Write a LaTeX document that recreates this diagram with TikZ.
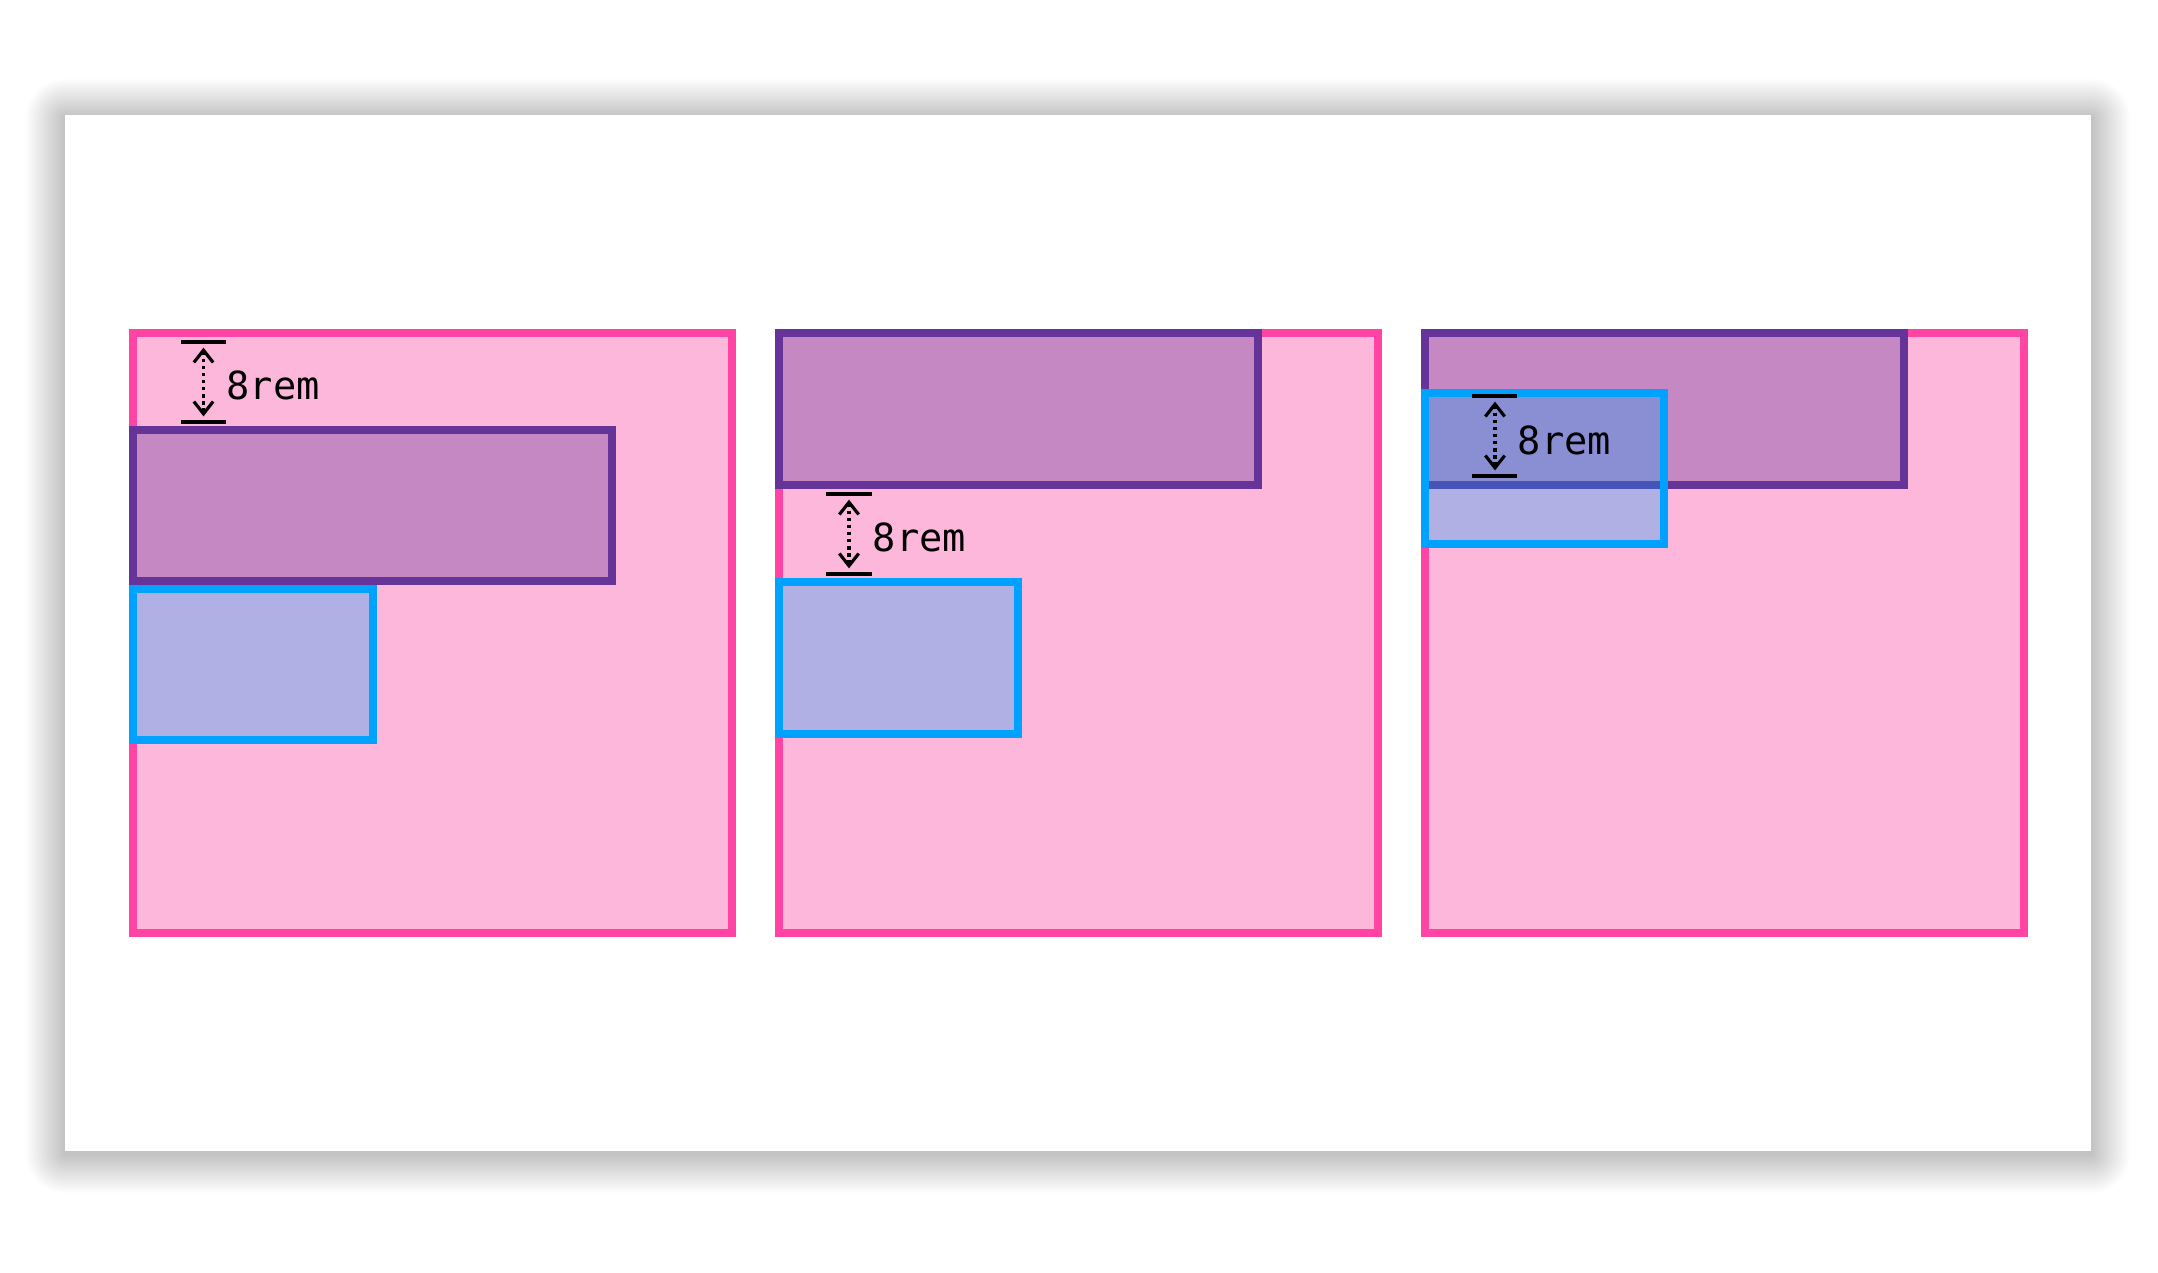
\documentclass[tikz,border=0pt]{standalone}
\usepackage{fontspec}
\newfontfamily\dimfont{DejaVu Sans Mono}
\usetikzlibrary{arrows.meta}
\definecolor{pinkline}{HTML}{FF44A4}
\definecolor{pinkfill}{HTML}{FDB7DA}
\definecolor{purpleline}{HTML}{663399}
\definecolor{purplefill}{HTML}{C688C2}
\definecolor{blueline}{HTML}{00A2FF}
\begin{document}
\begin{tikzpicture}[x=0.01cm,y=-0.01cm,
  shade step/.style={fill=black,fill opacity=0.008},
  outerbox/.style={draw=pinkline,fill=pinkfill,line width=2.3pt},
  widebox/.style={draw=purpleline,fill=purplefill,line width=2.3pt},
  smallbox/.style={draw=blueline,fill=blueline,fill opacity=0.3,line width=2.3pt},
  tickline/.style={line width=0.9pt},
  gapline/.style={line width=0.9pt,dash pattern=on 1pt off 1pt,
    {Straight Barb[length=3.5pt,width=5.5pt]}-{Straight Barb[length=3.5pt,width=5.5pt]},
    shorten <=1.6pt,shorten >=1.6pt},
  gaplabel/.style={anchor=west,inner sep=0pt,font=\dimfont\fontsize{11}{13}\selectfont}]
  \fill[white] (0,0) rectangle (2158,1272);
  % soft shadow of the card
  \foreach \i in {1,...,30}
    \fill[shade step,rounded corners={\i*0.37pt}]
      ({65-\i*1.3},{118-\i*1.3}) rectangle ({2091+\i*1.3},{1154+\i*1.3});
  \fill[white] (65,115) rectangle (2091,1151);
  % first box
  \begin{scope}[shift={(129,329)}]
    \draw[outerbox] (4,4) rectangle (603,604);
    \draw[widebox] (4,101) rectangle (483,252);
    \draw[smallbox] (4,260) rectangle (244,411);
    \coordinate (a1) at (74.5,13);
    \coordinate (b1) at (74.5,93);
    \draw[tickline] (52,13) -- (97,13);
    \draw[tickline] (52,93) -- (97,93);
    \draw[gapline] (a1) -- (b1);
    \node[gaplabel] (t1) at (97,56) {8rem};
  \end{scope}
  % second box
  \begin{scope}[shift={(775,329)}]
    \draw[outerbox] (4,4) rectangle (603,604);
    \draw[widebox] (4,4) rectangle (483,156);
    \draw[smallbox] (4,253) rectangle (243,405);
    \coordinate (a2) at (74,165);
    \coordinate (b2) at (74,245);
    \draw[tickline] (51,165) -- (97,165);
    \draw[tickline] (51,245) -- (97,245);
    \draw[gapline] (a2) -- (b2);
    \node[gaplabel] (t2) at (97,208) {8rem};
  \end{scope}
  % third box
  \begin{scope}[shift={(1421,329)}]
    \draw[outerbox] (4,4) rectangle (603,604);
    \draw[widebox] (4,4) rectangle (483,156);
    \draw[smallbox] (4,64) rectangle (243,215);
    \coordinate (a3) at (74,67);
    \coordinate (b3) at (74,147);
    \draw[tickline] (51,67) -- (96,67);
    \draw[tickline] (51,147) -- (96,147);
    \draw[gapline] (a3) -- (b3);
    \node[gaplabel] (t3) at (96,111) {8rem};
  \end{scope}
\end{tikzpicture}
\end{document}
